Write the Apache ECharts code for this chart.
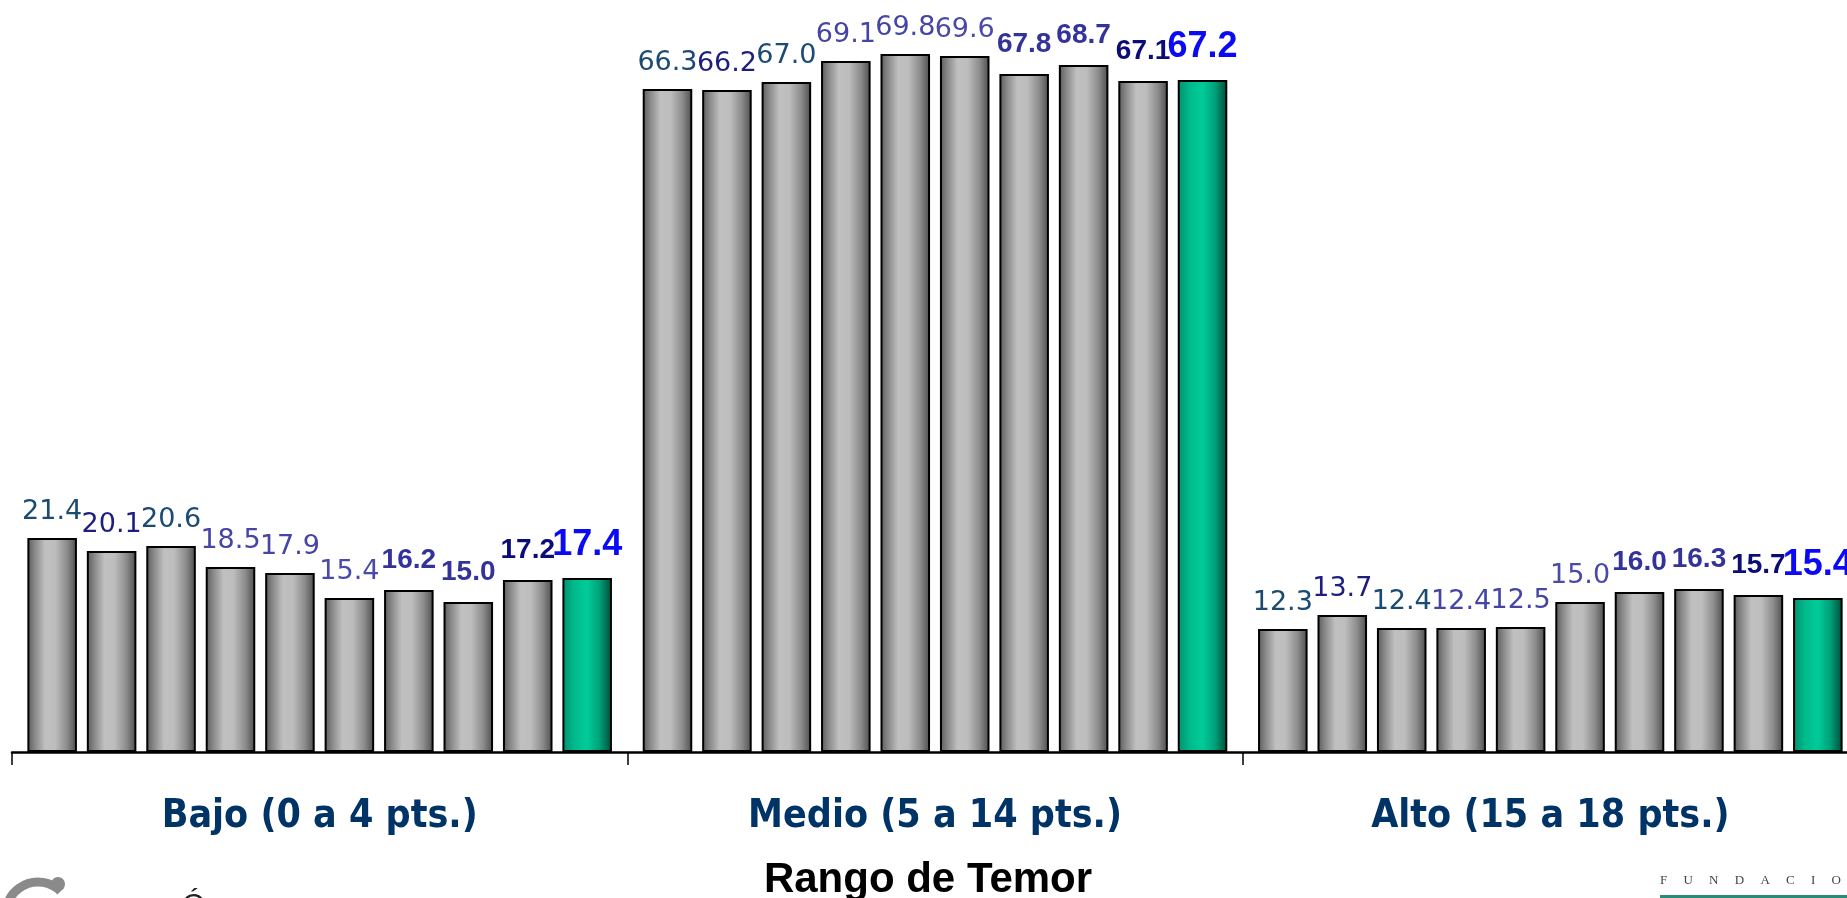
<!DOCTYPE html>
<html>
<head>
<meta charset="utf-8">
<script src="https://cdn.jsdelivr.net/npm/echarts@6/dist/echarts.min.js"></script>
<style>
html,body{margin:0;padding:0;background:#fff;}
#chart{width:1847px;height:898px;}
</style>
</head>
<body>
<div id="chart"></div>
<script>
// ---- data ----
const categories = ['Bajo (0 a 4 pts.)', 'Medio (5 a 14 pts.)', 'Alto (15 a 18 pts.)'];
const bajo  = [21.4, 20.1, 20.6, 18.5, 17.9, 15.4, 16.2, 15.0, 17.2, 17.4];
const medio = [66.3, 66.2, 67.0, 69.1, 69.8, 69.6, 67.8, 68.7, 67.1, 67.2];
const alto  = [12.3, 13.7, 12.4, 12.4, 12.5, 15.0, 16.0, 16.3, 15.7, 15.4];
const seriesNames = ['M1','M2','M3','M4','M5','M6','M7','M8','M9','M10'];
const axisTitle = 'Rango de Temor';

// ---- styles ----
const labelColors = ['#1b4a72','#1e1e7e','#1b4a72','#4545a5','#4545a5','#4a4aa8','#333399','#333399','#0c0c78','#0a0af5'];
const labelKinds  = ['n','n','n','n','n','n','b','b','b','big'];

const grayGrad = new echarts.graphic.LinearGradient(0,0,1,0,[
  {offset:0, color:'#5a5a5a'},
  {offset:0.15, color:'#888888'},
  {offset:0.36, color:'#c0c0c0'},
  {offset:0.56, color:'#bdbdbd'},
  {offset:0.8, color:'#8c8c8c'},
  {offset:1, color:'#4c4c4c'}
]);
const greenGrad = new echarts.graphic.LinearGradient(0,0,1,0,[
  {offset:0, color:'#00916e'},
  {offset:0.25, color:'#00bb8c'},
  {offset:0.5, color:'#00cc99'},
  {offset:0.75, color:'#00a07a'},
  {offset:1, color:'#004a36'}
]);

function labelStyle(i){
  const k = labelKinds[i];
  const base = {show:true, position:'top', color:labelColors[i], formatter: p => p.value.toFixed(1)};
  if (k === 'n') return Object.assign(base, {fontFamily:'DejaVu Sans', fontSize:27, fontWeight:'normal', distance:13});
  if (k === 'b') return Object.assign(base, {fontFamily:'Liberation Sans', fontSize:28, fontWeight:'bold', distance:16});
  return Object.assign(base, {fontFamily:'Liberation Sans', fontSize:36, fontWeight:'bold', distance:15});
}

const series = seriesNames.map((name, i) => ({
  name: name,
  type: 'bar',
  data: [bajo[i], medio[i], alto[i]],
  barGap: '20%',
  barCategoryGap: '5%',
  itemStyle: {color: i === 9 ? greenGrad : grayGrad, borderColor:'#000', borderWidth:2},
  label: labelStyle(i),
  emphasis: {disabled:true},
  animation: false
}));

const chart = echarts.init(document.getElementById('chart'));
chart.setOption({
  animation: false,
  grid: {left: 12, top: 2, width: 1846, height: 750, containLabel: false, outerBoundsMode: 'none'},
  xAxis: {
    type: 'category',
    data: categories,
    axisLine: {show:true, lineStyle:{color:'#000', width:2.5}},
    axisTick: {show:true, length:13, lineStyle:{color:'#000', width:1.5}},
    axisLabel: {color:'#003366', fontFamily:"'DejaVu Sans Condensed', 'DejaVu Sans'", fontWeight:'bold', fontSize:39, margin:45},
    name: axisTitle,
    nameLocation: 'middle',
    nameGap: 107,
    nameTextStyle: {color:'#000', fontFamily:'Liberation Sans', fontWeight:'bold', fontSize:42, padding:[0,14,0,0]}
  },
  yAxis: {type:'value', min:0, max:75, show:false, splitLine:{show:false}},
  series: series,
  graphic: [
    {type:'text', left:1660, top:874, style:{text:'F     U     N     D     A     C     I     O     N', fontFamily:'Liberation Serif', fontSize:13, fill:'#444'}},
    {type:'rect', shape:{x:1660, y:895, width:200, height:3}, style:{fill:'#2a8a78'}},
    {type:'arc', shape:{cx:38, cy:914, r:32, startAngle:Math.PI*1.05, endAngle:Math.PI*1.75}, style:{stroke:'#8a8a8a', lineWidth:9, fill:null}},
    {type:'circle', shape:{cx:58, cy:884, r:7}, style:{fill:'#8a8a8a'}},
    {type:'text', left:182, top:891, style:{text:'Ó', fontFamily:'Liberation Sans', fontSize:30, fill:'#222'}}
  ]
});
</script>
</body>
</html>
